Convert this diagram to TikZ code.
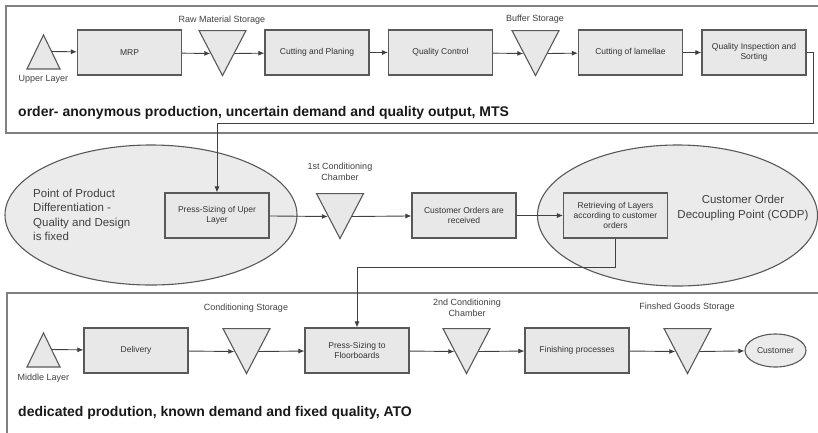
\documentclass[tikz,border=0pt]{standalone}
\usepackage{fontspec}
\setmainfont{Liberation Sans}
\usepackage{xcolor}
\usepackage{tikz}
\usetikzlibrary{positioning,arrows.meta,shapes.geometric,calc}

\begin{document}
\begin{tikzpicture}[
    x=1pt, y=-1pt,
    proc/.style={rectangle, draw=black!65, line width=1.1pt, fill=black!9, minimum width=104pt, minimum height=45pt, align=center, inner sep=2pt, font=\fontsize{8.5}{10}\selectfont, text=black!80},
    store/.style={isosceles triangle, isosceles triangle stretches, shape border rotate=-90, draw=black!65, line width=1.1pt, fill=black!9, minimum width=47pt, minimum height=45pt, inner sep=0pt, anchor=north},
    src/.style={isosceles triangle, isosceles triangle stretches, shape border rotate=90, draw=black!65, line width=1.1pt, fill=black!9, minimum width=33pt, minimum height=34pt, inner sep=0pt, anchor=south},
    zone/.style={ellipse, draw=black!65, line width=1.1pt, fill=black!8},
    frame/.style={draw=black!50, line width=1.5pt},
    arr/.style={-{Latex[length=6pt,width=5pt]}, line width=0.9pt, draw=black!75},
    lbl/.style={font=\fontsize{9}{11}\selectfont, text=black!75, align=center, inner sep=0pt},
    big/.style={font=\fontsize{11.5}{14.5}\selectfont, text=black!75, inner sep=0pt},
    note/.style={font=\bfseries\fontsize{14}{16}\selectfont, text=black!90, anchor=west, inner sep=0pt}
]
\useasboundingbox (0,0) rectangle (818,432);
\clip (0,0) rectangle (818,432);

% frames of the two production stages
\draw[frame] (6,6) rectangle (840,133);
\draw[frame] (7,293) rectangle (840,450);

% decoupling zones
\node[zone, minimum width=292pt, minimum height=140pt] (pdp) at (151,215) {};
\node[zone, minimum width=280pt, minimum height=141pt] (codp) at (677.5,215.5) {};
\node[big, anchor=west, align=left] (pdptxt) at (33,215) {Point of Product\\Differentiation -\\Quality and Design\\is fixed};
\node[big, align=center] (codptxt) at (743,208) {Customer Order\\Decoupling Point (CODP)};

% upper layer line (MTS)
\node[src] (ul) at (43.5,69.5) {};
\node[lbl, below=6pt of ul] (ullbl) {Upper Layer};
\node[proc] (mrp) at (129.5,52.5) {MRP};
\node[store] (rms) at (222.5,30) {};
\node[lbl] (rmslbl) at (222,20) {Raw Material Storage};
\node[proc] (cp) at (317,52.5) {Cutting and Planing};
\node[proc] (qc) at (440.5,52.5) {Quality Control};
\node[store] (buf) at (535.5,30) {};
\node[lbl] (buflbl) at (535,19) {Buffer Storage};
\node[proc] (col) at (630.5,52.5) {Cutting of lamellae};
\node[proc] (qis) at (754,52.5) {Quality Inspection and\\Sorting};
\node[note] (mts) at (18,113) {order- anonymous production, uncertain demand and quality output, MTS};

% middle row
\node[proc] (psu) at (217,215.5) {Press-Sizing of Uper\\Layer};
\node[store] (cc1) at (340,193) {};
\node[lbl] (cc1lbl) at (340,172) {1st Conditioning\\Chamber};
\node[proc] (cor) at (464,215.5) {Customer Orders are\\received};
\node[proc] (ret) at (615.5,215.5) {Retrieving of Layers\\according to customer\\orders};

% middle layer line (ATO)
\node[src] (ml) at (43.5,367.5) {};
\node[lbl, below=6pt of ml] (mllbl) {Middle Layer};
\node[proc] (del) at (136,350.5) {Delivery};
\node[store] (cs) at (246.5,328) {};
\node[lbl] (cslbl) at (246,308) {Conditioning Storage};
\node[proc] (pf) at (357,350.5) {Press-Sizing to\\Floorboards};
\node[store] (cc2) at (466.5,328) {};
\node[lbl] (cc2lbl) at (467,307.5) {2nd Conditioning\\Chamber};
\node[proc] (fp) at (577,350.5) {Finishing processes};
\node[store] (fgs) at (687.5,328) {};
\node[lbl] (fgslbl) at (687,307) {Finshed Goods Storage};
\node[zone, minimum width=61pt, minimum height=33pt, font=\fontsize{8.5}{10}\selectfont, text=black!80, inner sep=0pt] (cust) at (775.5,350.5) {Customer};
\node[note] (ato) at (18,413) {dedicated prodution, known demand and fixed quality, ATO};

\coordinate (c1) at (813,123);
\coordinate (c2) at (615.5,267);

\draw[arr] (ul.right side) -- (mrp);
\draw[arr] (mrp) -- (rms.right side);
\draw[arr] (rms.left side) -- (cp);
\draw[arr] (cp) -- (qc);
\draw[arr] (qc) -- (buf.right side);
\draw[arr] (buf.left side) -- (col);
\draw[arr] (col) -- (qis);
\draw[arr] (qis.east) -| (c1) -| (psu);

\draw[arr] (psu) -- (cc1.right side);
\draw[arr] (cc1.left side) -- (cor);
\draw[arr] (cor) -- (ret);
\draw[arr] (ret) -- (c2) -| (pf);

\draw[arr] (ml.right side) -- (del);
\draw[arr] (del) -- (cs.right side);
\draw[arr] (cs.left side) -- (pf);
\draw[arr] (pf) -- (cc2.right side);
\draw[arr] (cc2.left side) -- (fp);
\draw[arr] (fp) -- (fgs.right side);
\draw[arr] (fgs.left side) -- (cust);

\end{tikzpicture}
\end{document}
